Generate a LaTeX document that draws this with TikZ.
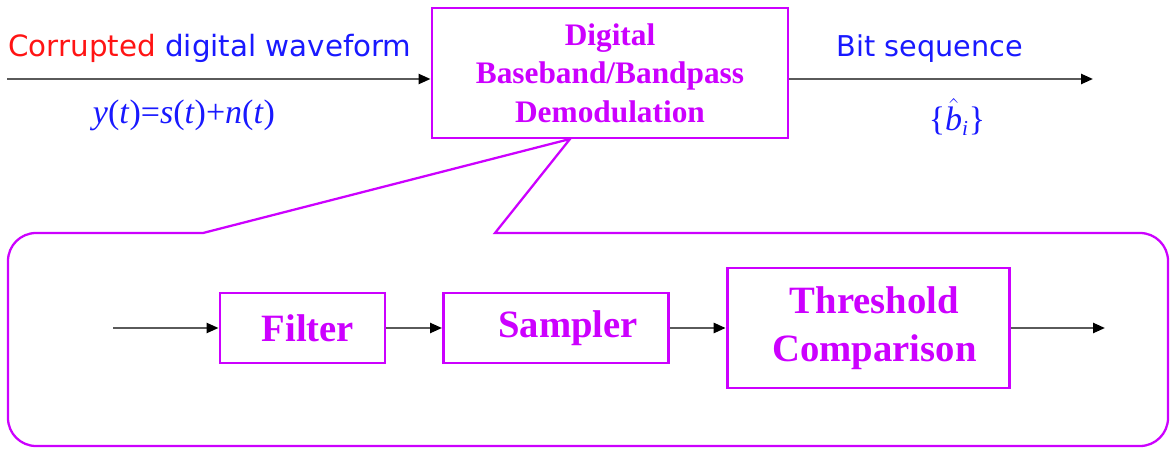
\documentclass[tikz,border=0pt]{standalone}
\usepackage{fontspec}
\setmainfont{Liberation Serif}
\newfontfamily\comicfont{DejaVu Sans}
\usetikzlibrary{arrows.meta}

\definecolor{demodpink}{RGB}{204,0,255}
\definecolor{labelblue}{RGB}{25,25,255}
\definecolor{labelred}{RGB}{255,20,20}
\definecolor{wiregray}{RGB}{90,90,90}

\tikzset{
  blockbox/.style={draw=demodpink, line width=2.2pt, text=demodpink, align=center, inner sep=0pt, font=\bfseries},
  flowarrow/.style={draw=wiregray, line width=1.8pt, -{Triangle[length=9pt,width=7.5pt,color=black]}},
  calloutline/.style={draw=demodpink, line width=1.7pt}
}

\begin{document}
\begin{tikzpicture}[x=0.75pt,y=0.75pt,yscale=-1,xscale=1]
\path[use as bounding box] (0,0) rectangle (1170,449);

%Shape: Rectangle [demodulation block]
\node (demod) [blockbox, minimum width=267pt, minimum height=97.5pt, font=\bfseries\fontsize{23.5}{29}\selectfont] at (610,73) {Digital\\Baseband/Bandpass\\Demodulation};

% Text Node
\node (corrupt) [anchor=base, font=\comicfont\fontsize{22}{26}\selectfont] at (210,57) {\textcolor{labelred}{Corrupted} \textcolor{labelblue}{digital waveform}};
% Text Node
\node (yeq) [text=labelblue, font=\fontsize{25.5}{30}\selectfont] at (184,115) {\textit{y}(\textit{t})=\textit{s}(\textit{t})+\textit{n}(\textit{t})};
% Text Node
\node (bitseq) [anchor=base, text=labelblue, font=\comicfont\fontsize{21.5}{25}\selectfont] at (930,57) {Bit sequence};
% Text Node
\node (bhat) [text=labelblue, font=\fontsize{25.5}{30}\selectfont] at (957,117) {\{$\hat{\mbox{\itshape b}}_{\mbox{\itshape\fontsize{16}{18}\selectfont i}}$\}};

\coordinate (inTop) at (7,79);
\coordinate (outTop) at (1093,79);
% Connection
\draw [flowarrow] (inTop) -- (inTop -| demod.west);
% Connection
\draw [flowarrow] (outTop -| demod.east) -- (outTop);

%Shape: Callout [expanded view]
\coordinate (apex) at (570,139);
\draw [calloutline] (apex) -- (495,233) [rounded corners=21pt] -- (1168,233) -- (1168,446) -- (8,446) -- (8,233) [sharp corners] -- (203,233) -- cycle;

%Shape: Rectangle [filter]
\node (filter) [blockbox, minimum width=123.75pt, minimum height=52.5pt, font=\bfseries\fontsize{29}{34}\selectfont] at (302.5,328) {\hspace*{8pt}Filter};
%Shape: Rectangle [sampler]
\node (sampler) [blockbox, minimum width=168.75pt, minimum height=52.5pt, font=\bfseries\fontsize{29}{34}\selectfont] at (556,328) {\hspace*{18pt}Sampler};
%Shape: Rectangle [threshold]
\node (thresh) [blockbox, minimum width=212pt, minimum height=90pt, font=\bfseries\fontsize{29}{36}\selectfont] at (868.5,328) {\hspace*{9pt}Threshold\\\hspace*{9pt}Comparison};

\coordinate (inBot) at (113,328);
\coordinate (outBot) at (1105,328);
% Connection
\draw [flowarrow] (inBot) -- (filter.west);
% Connection
\draw [flowarrow] (filter.east) -- (sampler.west);
% Connection
\draw [flowarrow] (sampler.east) -- (thresh.west);
% Connection
\draw [flowarrow] (thresh.east) -- (outBot);

\end{tikzpicture}
\end{document}
